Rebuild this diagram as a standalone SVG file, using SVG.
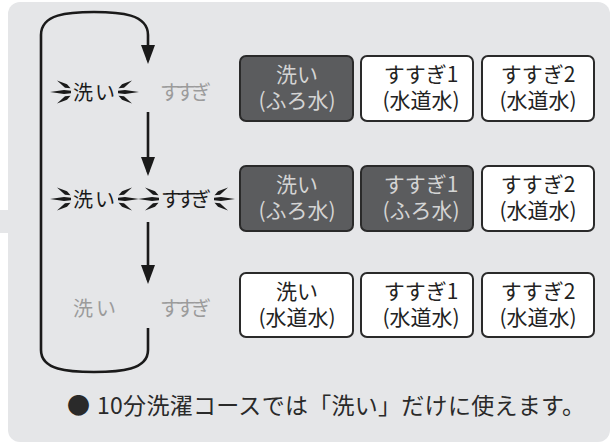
<svg xmlns="http://www.w3.org/2000/svg" xmlns:xlink="http://www.w3.org/1999/xlink" width="610" height="445" viewBox="0 0 610 445">
  <style>
    text { font-family: "Noto Sans CJK JP", "Noto Sans", sans-serif; }
    .bg { fill: #e5e6e8; }
    .box { stroke: #2a2a2a; stroke-width: 2; }
    .on { fill: #5b5c5e; }
    .off { fill: #ffffff; }
    .bt { font-size: 21px; text-anchor: middle; }
    .on-t { fill: #d4d4d4; }
    .off-t { fill: #222222; }
    .lbl { font-size: 20px; }
    .act { fill: #1a1a1a; }
    .dim { fill: #9b9b9b; }
    .flow { fill: none; stroke: #1a1a1a; stroke-width: 2.6; }
    .note { font-size: 23px; fill: #2a2a2a; }
  </style>
  <defs>
    <marker id="ah" markerUnits="userSpaceOnUse" markerWidth="20" markerHeight="16" refX="15" refY="7" orient="auto">
      <path d="M0,0 L19,7 L0,14 Z" fill="#1a1a1a"/>
    </marker>
    <g id="burst" fill="#1a1a1a">
      <polygon points="-21,0 -7,-2 0,-1.3 0,1.3 -7,2"/>
      <polygon points="-14,-11.5 -4,-7.8 -0.5,-3.8 -6,-4.3"/>
      <polygon points="-14,11.5 -4,7.8 -0.5,3.8 -6,4.3"/>
    </g>
  </defs>

  <g id="panel">
    <rect class="bg" x="8" y="2" width="602" height="440" rx="12"/>
    <rect class="bg" x="0" y="210" width="12" height="23"/>
  </g>

  <g id="connectors">
    <path class="flow" marker-end="url(#ah)" d="M148,328 V350 C148,370 120,372 94,372 C68,372 41,370 41,350 V35 C41,14 68,12 94,12 C120,12 148,14 148,35 V60"/>
    <line class="flow" x1="148" y1="112" x2="148" y2="172" marker-end="url(#ah)"/>
    <line class="flow" x1="148" y1="222" x2="148" y2="280" marker-end="url(#ah)"/>
  </g>

  <g id="row1-labels">
    <use xlink:href="#burst" href="#burst" transform="translate(71,92)"/>
    <text class="lbl act" x="73" y="99.5" textLength="42" lengthAdjust="spacing">洗い</text>
    <use xlink:href="#burst" href="#burst" transform="translate(118,92) scale(-1,1)"/>
    <text class="lbl dim" x="160" y="99.5" textLength="51" lengthAdjust="spacing">すすぎ</text>
  </g>

  <g id="row2-labels">
    <use xlink:href="#burst" href="#burst" transform="translate(71,199)"/>
    <text class="lbl act" x="73" y="206.5" textLength="42" lengthAdjust="spacing">洗い</text>
    <use xlink:href="#burst" href="#burst" transform="translate(118,199) scale(-1,1)"/>
    <use xlink:href="#burst" href="#burst" transform="translate(159,199)"/>
    <text class="lbl act" x="161" y="206.5" textLength="50" lengthAdjust="spacing">すすぎ</text>
    <use xlink:href="#burst" href="#burst" transform="translate(214,199) scale(-1,1)"/>
  </g>

  <g id="row3-labels">
    <text class="lbl dim" x="73" y="315.5" textLength="43" lengthAdjust="spacing">洗い</text>
    <text class="lbl dim" x="160" y="315.5" textLength="51" lengthAdjust="spacing">すすぎ</text>
  </g>

  <g id="r1-wash">
    <rect class="box on" x="240" y="56" width="113" height="65" rx="6"/>
    <text class="bt on-t"><tspan x="297" y="82">洗い</tspan><tspan x="297" y="108">(ふろ水)</tspan></text>
  </g>
  <g id="r1-rinse1">
    <rect class="box off" x="361" y="56" width="112" height="65" rx="6"/>
    <text class="bt off-t"><tspan x="421" y="82">すすぎ1</tspan><tspan x="421" y="108">(水道水)</tspan></text>
  </g>
  <g id="r1-rinse2">
    <rect class="box off" x="482" y="56" width="112" height="65" rx="6"/>
    <text class="bt off-t"><tspan x="538" y="82">すすぎ2</tspan><tspan x="538" y="108">(水道水)</tspan></text>
  </g>

  <g id="r2-wash">
    <rect class="box on" x="240" y="166" width="113" height="65" rx="6"/>
    <text class="bt on-t"><tspan x="297" y="192">洗い</tspan><tspan x="297" y="218">(ふろ水)</tspan></text>
  </g>
  <g id="r2-rinse1">
    <rect class="box on" x="361" y="166" width="112" height="65" rx="6"/>
    <text class="bt on-t"><tspan x="421" y="192">すすぎ1</tspan><tspan x="421" y="218">(ふろ水)</tspan></text>
  </g>
  <g id="r2-rinse2">
    <rect class="box off" x="482" y="166" width="112" height="65" rx="6"/>
    <text class="bt off-t"><tspan x="538" y="192">すすぎ2</tspan><tspan x="538" y="218">(水道水)</tspan></text>
  </g>

  <g id="r3-wash">
    <rect class="box off" x="240" y="273" width="113" height="64" rx="6"/>
    <text class="bt off-t"><tspan x="297" y="299">洗い</tspan><tspan x="297" y="325">(水道水)</tspan></text>
  </g>
  <g id="r3-rinse1">
    <rect class="box off" x="361" y="273" width="112" height="64" rx="6"/>
    <text class="bt off-t"><tspan x="421" y="299">すすぎ1</tspan><tspan x="421" y="325">(水道水)</tspan></text>
  </g>
  <g id="r3-rinse2">
    <rect class="box off" x="482" y="273" width="112" height="64" rx="6"/>
    <text class="bt off-t"><tspan x="538" y="299">すすぎ2</tspan><tspan x="538" y="325">(水道水)</tspan></text>
  </g>

  <g id="note">
    <text class="note" x="67" y="414">●</text>
    <text class="note" x="97" y="414" textLength="488" lengthAdjust="spacing">10分洗濯コースでは「洗い」だけに使えます。</text>
  </g>
</svg>
